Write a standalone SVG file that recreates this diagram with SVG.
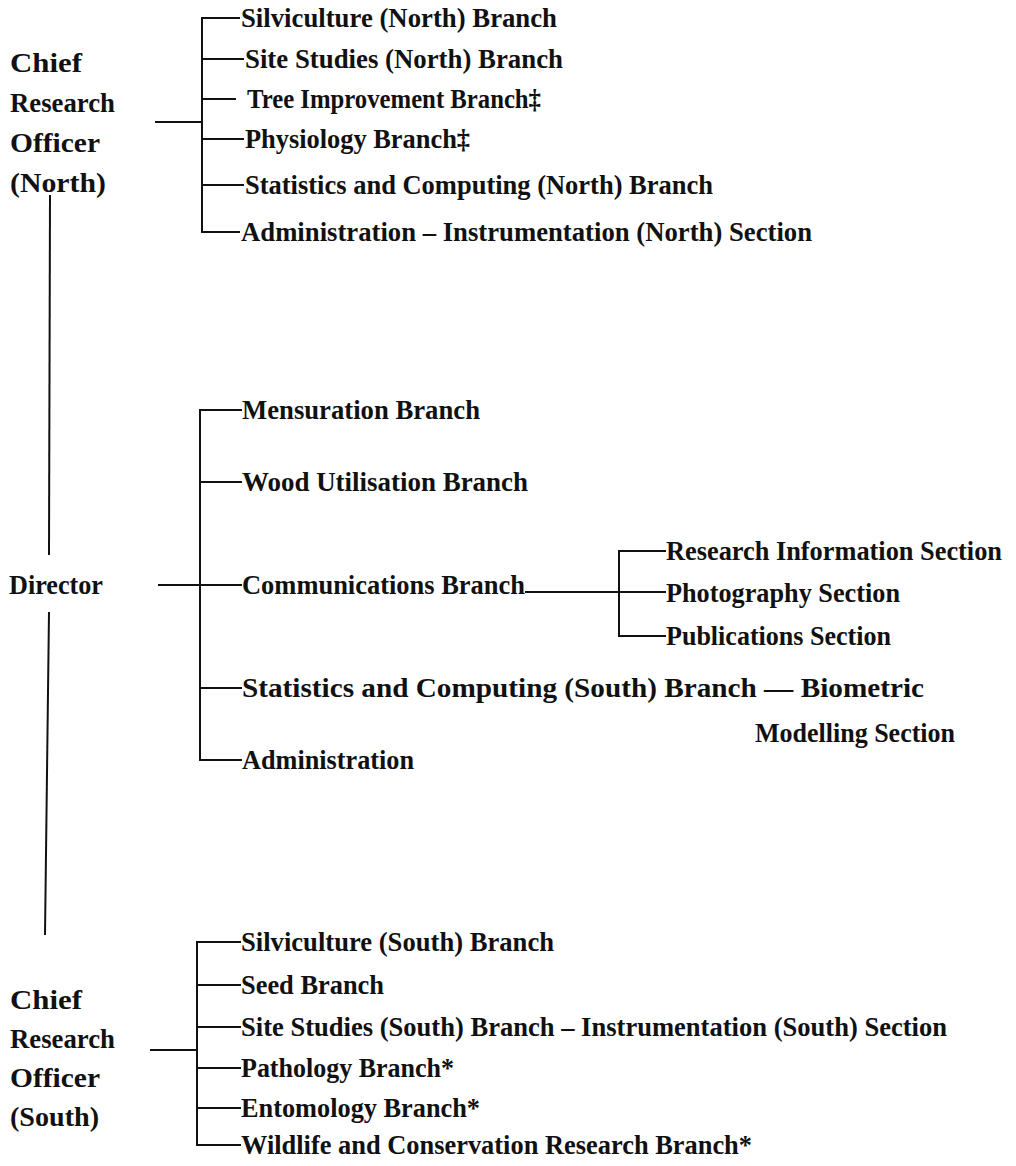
<svg xmlns="http://www.w3.org/2000/svg" width="1016" height="1166" viewBox="0 0 1016 1166">
<style>
text{font-family:"Liberation Serif","Times New Roman",serif;font-size:27px;font-weight:bold;fill:#111}
.c line,.c path{stroke:#111;stroke-width:2;fill:none}
</style>
<rect width="1016" height="1166" fill="#fff"/>
<g class="c" id="connectors">
<line x1="50" y1="195" x2="49" y2="555"/>
<line x1="49" y1="612" x2="45" y2="935"/>
<line x1="155" y1="122" x2="202" y2="122"/>
<path d="M240 18H202V232H240"/>
<line x1="202" y1="59" x2="244" y2="59"/>
<line x1="202" y1="99" x2="236" y2="99"/>
<line x1="202" y1="139" x2="244" y2="139"/>
<line x1="202" y1="185" x2="244" y2="185"/>
<line x1="158" y1="585" x2="242" y2="585"/>
<path d="M242 410H200V760H242"/>
<line x1="200" y1="482" x2="242" y2="482"/>
<line x1="200" y1="688" x2="242" y2="688"/>
<line x1="525" y1="592" x2="666" y2="592"/>
<path d="M666 551H619V636H666"/>
<line x1="150" y1="1050" x2="197" y2="1050"/>
<path d="M241 942H197V1145H241"/>
<line x1="197" y1="985" x2="241" y2="985"/>
<line x1="197" y1="1027" x2="241" y2="1027"/>
<line x1="197" y1="1068" x2="241" y2="1068"/>
<line x1="197" y1="1108" x2="241" y2="1108"/>
</g>
<g id="cro-north">
<text x="10" y="72" textLength="72" lengthAdjust="spacingAndGlyphs">Chief</text>
<text x="10" y="112" textLength="105" lengthAdjust="spacingAndGlyphs">Research</text>
<text x="10" y="152" textLength="90" lengthAdjust="spacingAndGlyphs">Officer</text>
<text x="10" y="192" textLength="96" lengthAdjust="spacingAndGlyphs">(North)</text>
</g>
<g id="n1"><text x="241" y="27" textLength="316" lengthAdjust="spacingAndGlyphs">Silviculture (North) Branch</text></g>
<g id="n2"><text x="245" y="68" textLength="318" lengthAdjust="spacingAndGlyphs">Site Studies (North) Branch</text></g>
<g id="n3"><text x="247" y="108" textLength="294" lengthAdjust="spacingAndGlyphs">Tree Improvement Branch‡</text></g>
<g id="n4"><text x="245" y="148" textLength="225" lengthAdjust="spacingAndGlyphs">Physiology Branch‡</text></g>
<g id="n5"><text x="245" y="194" textLength="468" lengthAdjust="spacingAndGlyphs">Statistics and Computing (North) Branch</text></g>
<g id="n6"><text x="241" y="241" textLength="571" lengthAdjust="spacingAndGlyphs">Administration – Instrumentation (North) Section</text></g>
<g id="director"><text x="9" y="594" textLength="94" lengthAdjust="spacingAndGlyphs">Director</text></g>
<g id="d1"><text x="242" y="419" textLength="238" lengthAdjust="spacingAndGlyphs">Mensuration Branch</text></g>
<g id="d2"><text x="242" y="491" textLength="286" lengthAdjust="spacingAndGlyphs">Wood Utilisation Branch</text></g>
<g id="d3"><text x="242" y="594" textLength="283" lengthAdjust="spacingAndGlyphs">Communications Branch</text></g>
<g id="c1"><text x="666" y="560" textLength="336" lengthAdjust="spacingAndGlyphs">Research Information Section</text></g>
<g id="c2"><text x="666" y="602" textLength="234" lengthAdjust="spacingAndGlyphs">Photography Section</text></g>
<g id="c3"><text x="666" y="645" textLength="225" lengthAdjust="spacingAndGlyphs">Publications Section</text></g>
<g id="d4"><text x="242" y="697" textLength="682" lengthAdjust="spacingAndGlyphs">Statistics and Computing (South) Branch — Biometric</text>
<text x="755" y="742" textLength="200" lengthAdjust="spacingAndGlyphs">Modelling Section</text></g>
<g id="d5"><text x="242" y="769" textLength="172" lengthAdjust="spacingAndGlyphs">Administration</text></g>
<g id="cro-south">
<text x="10" y="1009" textLength="72" lengthAdjust="spacingAndGlyphs">Chief</text>
<text x="10" y="1048" textLength="105" lengthAdjust="spacingAndGlyphs">Research</text>
<text x="10" y="1087" textLength="90" lengthAdjust="spacingAndGlyphs">Officer</text>
<text x="10" y="1126" textLength="89" lengthAdjust="spacingAndGlyphs">(South)</text>
</g>
<g id="s1"><text x="241" y="951" textLength="313" lengthAdjust="spacingAndGlyphs">Silviculture (South) Branch</text></g>
<g id="s2"><text x="241" y="994" textLength="143" lengthAdjust="spacingAndGlyphs">Seed Branch</text></g>
<g id="s3"><text x="241" y="1036" textLength="706" lengthAdjust="spacingAndGlyphs">Site Studies (South) Branch – Instrumentation (South) Section</text></g>
<g id="s4"><text x="241" y="1077" textLength="213" lengthAdjust="spacingAndGlyphs">Pathology Branch*</text></g>
<g id="s5"><text x="241" y="1117" textLength="239" lengthAdjust="spacingAndGlyphs">Entomology Branch*</text></g>
<g id="s6"><text x="241" y="1154" textLength="511" lengthAdjust="spacingAndGlyphs">Wildlife and Conservation Research Branch*</text></g>
</svg>
